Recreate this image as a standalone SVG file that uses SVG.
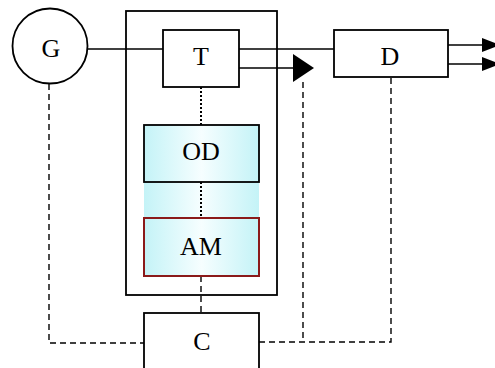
<svg xmlns="http://www.w3.org/2000/svg" width="495" height="368" viewBox="0 0 495 368">
<style>
.box{fill:#fff;stroke:#000;stroke-width:1.8}
.lbl{font-family:"Liberation Serif",serif;font-size:26px;text-anchor:middle;fill:#000}
.ln{stroke:#000;stroke-width:1.4;fill:none}
.dash{stroke:#000;stroke-width:1.4;fill:none;stroke-dasharray:6,4}
.dot{stroke:#000;stroke-width:2;fill:none;stroke-dasharray:2,2}
.ah{fill:#000}
</style>
<defs>
<linearGradient id="cy" x1="0" y1="0" x2="1" y2="0">
<stop offset="0" stop-color="#c4f3f7"/>
<stop offset="0.5" stop-color="#f6feff"/>
<stop offset="1" stop-color="#c4f3f7"/>
</linearGradient>
</defs>
<g id="container"><rect x="126" y="11" width="151" height="284" fill="#fff" stroke="#000" stroke-width="1.8"/></g>
<g id="band"><rect x="144" y="182" width="115" height="36" fill="url(#cy)"/></g>
<g id="connectors">
<line class="ln" x1="88" y1="49" x2="163" y2="49"/>
<line class="ln" x1="239" y1="49" x2="334" y2="49"/>
<line class="ln" x1="239" y1="68" x2="294" y2="68"/>
<polygon class="ah" points="293,54 314,68 293,82"/>
<line class="ln" x1="448" y1="45" x2="483" y2="45" stroke="#444"/>
<line class="ln" x1="448" y1="64" x2="483" y2="64" stroke="#444"/>
<polygon class="ah" points="482,38 500,45 482,52"/>
<polygon class="ah" points="482,57 500,64 482,71"/>
<line class="dot" x1="201" y1="87" x2="201" y2="125"/>
<line class="dot" x1="201" y1="182" x2="201" y2="218"/>
<line class="dash" x1="201" y1="276" x2="201" y2="313"/>
<polyline class="dash" points="49,84 49,343 144,343"/>
<polyline class="dash" points="259,342 391,342 391,77"/>
<line class="dash" x1="303" y1="82" x2="303" y2="342"/>
</g>
<g id="G"><circle cx="50" cy="46" r="37.5" class="box"/><text class="lbl" x="51" y="57">G</text></g>
<g id="T"><rect x="163" y="30" width="76" height="57" class="box"/><text class="lbl" x="201" y="65">T</text></g>
<g id="D"><rect x="334" y="30" width="114" height="47" class="box"/><text class="lbl" x="390" y="65">D</text></g>
<g id="OD"><rect x="144" y="125" width="115" height="57" fill="url(#cy)" stroke="#000" stroke-width="1.8"/><text class="lbl" x="201" y="160">OD</text></g>
<g id="AM"><rect x="144" y="218" width="115" height="58" fill="url(#cy)" stroke="#8b1a1a" stroke-width="2"/><text class="lbl" x="201" y="255">AM</text></g>
<g id="C"><rect x="144" y="313" width="115" height="70" class="box"/><text class="lbl" x="202" y="350">C</text></g>
</svg>
